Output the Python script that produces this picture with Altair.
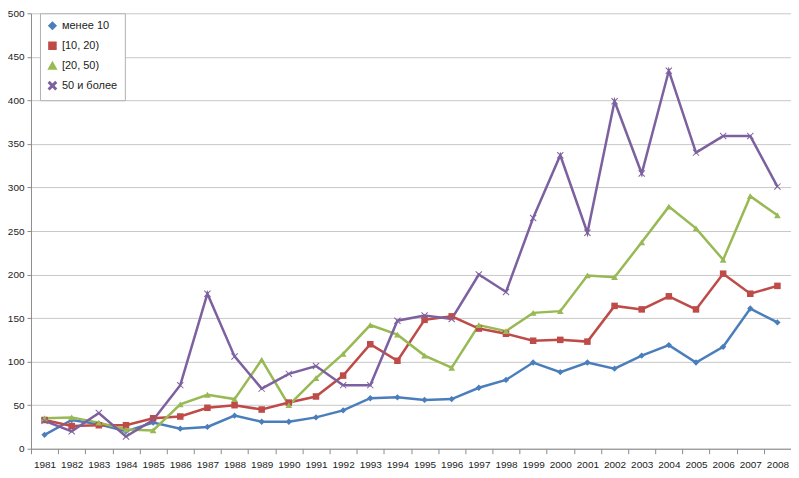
import altair as alt
import pandas as pd

years = [str(y) for y in range(1981, 2009)]
series = ["менее 10", "[10, 20)", "[20, 50)", "50 и более"]
colors = ["#4A7EBB", "#BE4B48", "#98B954", "#7D60A0"]
xshape = "M-1,-0.8L-0.8,-1L0,-0.2L0.8,-1L1,-0.8L0.2,0L1,0.8L0.8,1L0,0.2L-0.8,1L-1,0.8L-0.2,0Z"
shapes = ["diamond", "square", "triangle-up", xshape]
sizes = [40, 48, 42, 30]

s_lt10 = [16, 33, 28, 20, 30, 23, 25, 38, 31, 31, 36, 44, 58, 59, 56, 57, 70, 79, 99, 88, 99, 92, 107, 119, 99, 117, 161, 145]
s_10_20 = [33, 26, 27, 27, 35, 37, 47, 50, 45, 53, 60, 84, 120, 101, 148, 152, 138, 132, 124, 125, 123, 164, 160, 175, 160, 201, 178, 187]
s_20_50 = [35, 36, 30, 22, 21, 51, 62, 57, 102, 50, 81, 109, 142, 131, 107, 93, 142, 135, 156, 158, 199, 197, 237, 278, 253, 217, 290, 268]
s_50p = [32, 20, 41, 14, 33, 73, 178, 106, 69, 86, 95, 73, 73, 147, 153, 149, 200, 180, 265, 337, 248, 399, 316, 434, 340, 359, 359, 301]

rows = []
for name, vals in zip(series, [s_lt10, s_10_20, s_20_50, s_50p]):
    for yr, v in zip(years, vals):
        rows.append({"year": yr, "value": v, "group": name})
df = pd.DataFrame(rows)

legend = alt.Legend(
    title=None, orient="none", legendX=9, legendY=0,
    strokeColor="#b0b0b0", fillColor="white", padding=7,
    labelFontSize=11, labelFont="Liberation Sans", rowPadding=5,
    symbolStrokeWidth=2, labelColor="#222", labelOffset=4,
)

color = alt.Color("group:N", scale=alt.Scale(domain=series, range=colors), legend=legend)
shape = alt.Shape("group:N", scale=alt.Scale(domain=series, range=shapes), legend=legend)
size = alt.Size("group:N", scale=alt.Scale(domain=series, range=sizes), legend=legend)

x = alt.X(
    "year:O", bandPosition=0.5,
    scale=alt.Scale(type="band", paddingInner=0, paddingOuter=0),
    axis=alt.Axis(title=None, labelAngle=0, tickBand="extent", grid=False,
                  domainColor="#8c8c8c", tickColor="#8c8c8c", tickSize=5,
                  labelFont="Liberation Sans", labelFontSize=10, labelColor="#222",
                  labelPadding=6),
)
y = alt.Y(
    "value:Q", scale=alt.Scale(domain=[0, 500], nice=False),
    axis=alt.Axis(title=None, values=list(range(0, 501, 50)), grid=True,
                  gridColor="#c8c8c8", domainColor="#8c8c8c", tickColor="#8c8c8c",
                  tickSize=4, labelFont="Liberation Sans", labelFontSize=10,
                  labelColor="#222", labelPadding=3),
)

base = alt.Chart(df).encode(x=x, y=y, color=color)
lines = base.mark_line(strokeWidth=2.5)
points = base.mark_point(filled=True, opacity=1).encode(shape=shape, size=size)

chart = alt.layer(lines, points).properties(
    width=761, height=436,
    padding={"left": 23, "top": 5, "right": 0, "bottom": 21},
    autosize="none",
).configure_view(stroke=None)

chart.save("out.html", embed_options={"renderer": "svg", "actions": False})
